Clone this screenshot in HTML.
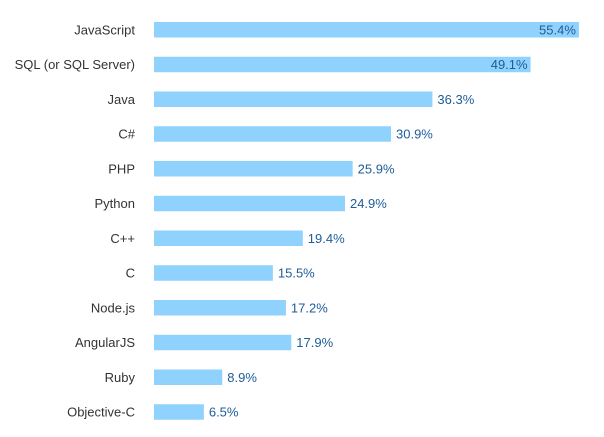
<!DOCTYPE html>
<html><head><meta charset="utf-8"><style>
html,body{margin:0;padding:0;background:#fff;}
svg{display:block;font-family:"Liberation Sans",Arial,sans-serif;}
</style></head><body>
<svg id="chart" width="604" height="437" viewBox="0 0 604 437"></svg>
<script>
const categories = ["JavaScript","SQL (or SQL Server)","Java","C#","PHP","Python","C++","C","Node.js","AngularJS","Ruby","Objective-C"];
const values = [55.4,49.1,36.3,30.9,25.9,24.9,19.4,15.5,17.2,17.9,8.9,6.5];
const valueLabels = ["55.4%","49.1%","36.3%","30.9%","25.9%","24.9%","19.4%","15.5%","17.2%","17.9%","8.9%","6.5%"];

const svg = document.getElementById('chart');
const NS = 'http://www.w3.org/2000/svg';
const x0 = 154, pxPer = 7.67, top0 = 22, pitch = 34.75, barH = 15.5;
const xScale = v => x0 + v * pxPer;
const yScale = i => top0 + i * pitch;
function mk(tag, attrs){const e=document.createElementNS(NS,tag);for(const k in attrs)e.setAttribute(k,attrs[k]);svg.appendChild(e);return e;}
categories.forEach((c,i)=>{
  const y = yScale(i), xe = xScale(values[i]);
  const lab = mk('text',{x:135,y:y+barH/2+4.5,'text-anchor':'end','font-size':13,fill:'#333'});
  lab.textContent = c;
  
  
  const r = mk('rect',{x:x0,y:y,width:xe-x0,height:barH,fill:'#8fd2fd'});
  
  
  const inside = xe > 500;
  const v = mk('text',{x:inside?xe-3:xe+5,y:y+barH/2+4.5,'text-anchor':inside?'end':'start','font-size':13,fill:'#1d5d99'});
  v.textContent = valueLabels[i];
  
  
});
</script>
</body></html>
